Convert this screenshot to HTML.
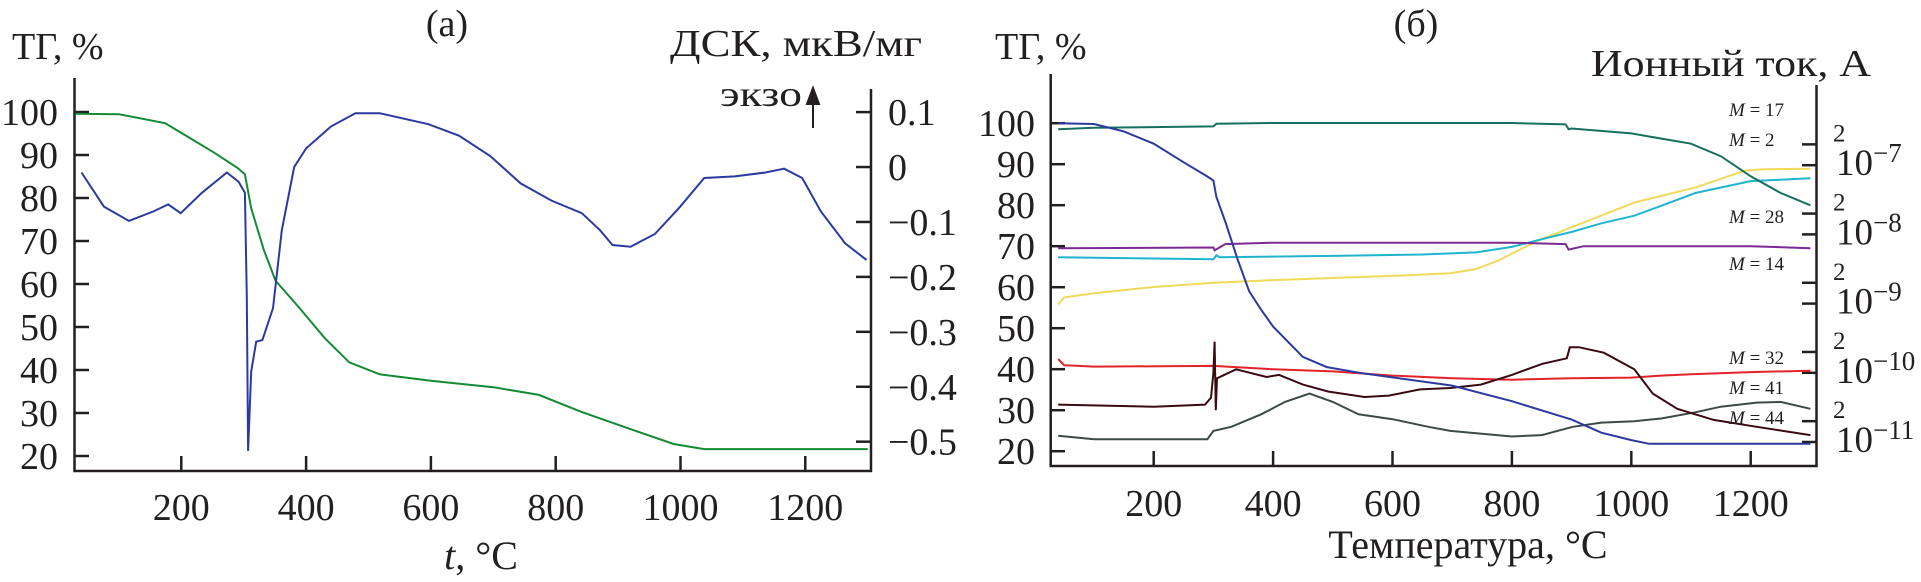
<!DOCTYPE html>
<html><head><meta charset="utf-8"><style>
html,body{margin:0;padding:0;background:#fff;}
svg{display:block;font-family:"Liberation Serif","DejaVu Serif",serif;fill:#231f20;}
</style></head><body>
<svg id="fig" width="1921" height="582" viewBox="0 0 1921 582">
<g id="chartA"></g>
<g id="chartB"></g>
</svg>
<script>
// ---- Chart (a) data ----
const aTempTG = [30,100,174,204,253,290,302,312,332,351,390,430,469,518,600,700,773,842,911,989,1038,1300];
const aTG = [99.6,99.5,97.4,94.8,90.5,87,85.5,77.6,68,60.8,54.3,47.4,41.8,39,37.5,36,34.2,30.2,26.7,22.8,21.6,21.6];
const aTempDSC = [40,76,116,155,179,199,233,273,292,302,305,307,312,320,330,347,361,381,400,440,479,518,596,645,695,744,793,842,871,891,920,959,998,1038,1087,1136,1166,1195,1225,1264,1298];
const aDSC = [-0.01,-0.072,-0.098,-0.081,-0.068,-0.084,-0.047,-0.01,-0.027,-0.047,-0.236,-0.517,-0.372,-0.318,-0.315,-0.257,-0.115,0.0,0.034,0.074,0.098,0.098,0.078,0.057,0.02,-0.03,-0.061,-0.084,-0.115,-0.142,-0.145,-0.122,-0.074,-0.02,-0.017,-0.01,-0.003,-0.02,-0.081,-0.139,-0.169];
const aXTicks = [200,400,600,800,1000,1200];
const aYTicks = [100,90,80,70,60,50,40,30,20];
const aY2Ticks = [0.1,0,-0.1,-0.2,-0.3,-0.4,-0.5];

// ---- Chart (б) data ----
const bTempTG = [40,100,150,200,250,290,300,305,320,340,360,380,400,450,490,550,600,700,800,900,950,1000,1030,1300];
const bTG = [100,99.8,98,95,90.5,87,86,82,76,67,59,54.5,50.4,43,40.5,39,38,36,32.2,27.7,24.5,22.7,21.8,21.8];
// ion currents, log10(A)
const bT17 = [40,100,300,305,400,800,890,895,900,1000,1100,1150,1200,1250,1300];
const bM17 = [-6.48,-6.46,-6.44,-6.40,-6.39,-6.39,-6.41,-6.48,-6.47,-6.54,-6.69,-6.87,-7.16,-7.40,-7.58];
const bT2 = [40,300,305,310,500,650,740,800,850,902,950,1005,1108,1200,1300];
const bM2 = [-8.33,-8.36,-8.30,-8.33,-8.31,-8.29,-8.26,-8.18,-8.07,-7.96,-7.84,-7.73,-7.40,-7.23,-7.19];
const bT28 = [40,50,100,200,300,400,500,600,697,740,779,841,902,1005,1108,1190,1220,1300];
const bM28 = [-9.01,-8.91,-8.85,-8.76,-8.70,-8.66,-8.63,-8.60,-8.56,-8.50,-8.37,-8.10,-7.89,-7.54,-7.32,-7.08,-7.06,-7.05];
const bT14 = [40,300,302,320,400,800,890,895,920,1200,1300];
const bM14 = [-8.20,-8.19,-8.23,-8.14,-8.12,-8.12,-8.14,-8.22,-8.17,-8.17,-8.20];
const bT32 = [40,50,100,300,400,500,600,700,800,900,1000,1050,1100,1200,1300];
const bM32 = [-9.80,-9.89,-9.91,-9.90,-9.95,-9.98,-10.04,-10.08,-10.10,-10.08,-10.07,-10.04,-10.02,-9.99,-9.97];
const bT41 = [40,200,286,296,300,302,304,306,338,389,410,450,492,553,594,646,697,748,800,851,892,897,912,954,1005,1036,1077,1138,1210,1300];
const bM41 = [-10.46,-10.49,-10.46,-10.36,-10.0,-9.55,-10.54,-10.08,-9.95,-10.06,-10.03,-10.17,-10.27,-10.35,-10.33,-10.24,-10.22,-10.17,-10.03,-9.87,-9.79,-9.63,-9.63,-9.71,-9.95,-10.30,-10.52,-10.68,-10.78,-10.90];
const bT44 = [40,100,200,290,300,330,380,420,461,500,543,600,660,697,800,850,902,950,1005,1050,1108,1150,1210,1250,1300];
const bM44 = [-10.91,-10.96,-10.96,-10.96,-10.84,-10.78,-10.60,-10.42,-10.30,-10.42,-10.60,-10.67,-10.78,-10.84,-10.92,-10.90,-10.78,-10.72,-10.70,-10.66,-10.57,-10.49,-10.43,-10.42,-10.52];
const bXTicks = [200,400,600,800,1000,1200];
const bYTicks = [100,90,80,70,60,50,40,30,20];
const bDecades = [-7,-8,-9,-10,-11];

const NS = "http://www.w3.org/2000/svg";
function mk(parent, tag, attrs, text){
  const e = document.createElementNS(NS, tag);
  for (const k in attrs) e.setAttribute(k, attrs[k]);
  if (text !== undefined) e.textContent = text;
  parent.appendChild(e);
  return e;
}
function pathD(xs, ys, fx, fy){
  let d = "";
  for (let i=0;i<xs.length;i++) d += (i?"L":"M") + fx(xs[i]).toFixed(1) + "," + fy(ys[i]).toFixed(1);
  return d;
}

// ---------- Chart A ----------
const A = document.getElementById("chartA");
const axA = t => 56.5 + t*0.624;
const ayA = v => 112 + (100-v)*4.3;
const ay2A = d => 112.1 + (0.1-d)*549.3;
const axisStyle = {stroke:"#231f20","stroke-width":2.5,fill:"none"};

let e;
e = mk(A,"path",Object.assign({d:"M74.5,78V471H871V89"},axisStyle));


aYTicks.forEach(v=>{
  const y = ayA(v);
  e = mk(A,"line",{x1:74.5,x2:89,y1:y,y2:y,stroke:"#231f20","stroke-width":2.5});
  
  
  e = mk(A,"text",{x:58,y:y+13,"font-size":38,"text-anchor":"end"},String(v));
  
  
});
aY2Ticks.forEach(v=>{
  const y = ay2A(v);
  e = mk(A,"line",{x1:856,x2:871,y1:y,y2:y,stroke:"#231f20","stroke-width":2.5});
  
  
  const s = v===0 ? "0" : (v<0 ? "\u2212"+Math.abs(v).toFixed(1) : v.toFixed(1));
  e = mk(A,"text",{x:888,y:y+13,"font-size":38},s);
  
  
});
aXTicks.forEach(t=>{
  const x = axA(t);
  e = mk(A,"line",{x1:x,x2:x,y1:456,y2:471,stroke:"#231f20","stroke-width":2.5});
  
  
  e = mk(A,"text",{x:x,y:520,"font-size":38,"text-anchor":"middle"},String(t));
  
  
});
e = mk(A,"path",{d:pathD(aTempTG,aTG,axA,ayA),stroke:"#138a34","stroke-width":2,fill:"none"});


e = mk(A,"path",{d:pathD(aTempDSC,aDSC,axA,ay2A),stroke:"#2b3a9e","stroke-width":2,fill:"none"});



e = mk(A,"text",{x:447,y:36,"font-size":38,"text-anchor":"middle"},"(a)");


e = mk(A,"text",{x:12,y:59,"font-size":38},"ТГ, %");


e = mk(A,"text",{x:670,y:56,"font-size":38,textLength:252,lengthAdjust:"spacingAndGlyphs"},"ДСК, мкВ/мг");


e = mk(A,"text",{x:720,y:106,"font-size":36,textLength:82,lengthAdjust:"spacingAndGlyphs"},"экзо");


e = mk(A,"path",{d:"M813,128V92M807,104L813,88L819,104Z",stroke:"#231f20","stroke-width":2,fill:"#231f20"});


e = mk(A,"text",{x:481,y:569,"font-size":40,"text-anchor":"middle"});


mk(e,"tspan",{"font-style":"italic"},"t");
mk(e,"tspan",{},", °C");

// ---------- Chart B ----------
const B = document.getElementById("chartB");
const axB = t => 1034.3 + t*0.597;
const ayB = v => 123.2 + (100-v)*4.1;
const alB = l => 165.2 - (l+7)*69.2;

e = mk(B,"path",Object.assign({d:"M1050.7,74V466H1816.5V85"},axisStyle));


bYTicks.forEach(v=>{
  const y = ayB(v);
  e = mk(B,"line",{x1:1050.7,x2:1065,y1:y,y2:y,stroke:"#231f20","stroke-width":2.5});
  
  
  e = mk(B,"text",{x:1035,y:y+13,"font-size":38,"text-anchor":"end"},String(v));
  
  
});
bDecades.forEach(p=>{
  const y = alB(p), y2 = alB(p+Math.log10(2));
  e = mk(B,"line",{x1:1802,x2:1816.5,y1:y,y2:y,stroke:"#231f20","stroke-width":2.5});
  
  
  e = mk(B,"line",{x1:1802,x2:1816.5,y1:y2,y2:y2,stroke:"#231f20","stroke-width":2.5});
  
  
  e = mk(B,"text",{x:1833,y:y2-3,"font-size":25},"2");
  
  
  e = mk(B,"text",{x:1836,y:y+10,"font-size":37});
  
  
  mk(e,"tspan",{},"10");
  mk(e,"tspan",{dy:-13,"font-size":27},"\u2212"+Math.abs(p));
});
bXTicks.forEach(t=>{
  const x = axB(t);
  e = mk(B,"line",{x1:x,x2:x,y1:451,y2:466,stroke:"#231f20","stroke-width":2.5});
  
  
  e = mk(B,"text",{x:x,y:516,"font-size":38,"text-anchor":"middle"},String(t));
  
  
});
const series = [
  [bT44,bM44,"#3d4a47","m44-curve"],
  [bT32,bM32,"#e3222a","m32-curve"],
  [bT41,bM41,"#3a0a12","m41-curve"],
  [bT28,bM28,"#f1d95a","m28-curve"],
  [bT2,bM2,"#1fb5cf","m2-curve"],
  [bT14,bM14,"#7d2a95","m14-curve"],
  [bT17,bM17,"#17705f","m17-curve"]
];
series.forEach(s=>{
  e = mk(B,"path",{d:pathD(s[0],s[1],axB,alB),stroke:s[2],"stroke-width":2,fill:"none"});
  
  
});
e = mk(B,"path",{d:pathD(bTempTG,bTG,axB,ayB),stroke:"#2b3a9e","stroke-width":2,fill:"none"});



const mLabels = ["17","2","28","14","32","41","44"];
const mY = [116,146,223,270,364,394,424];
mLabels.forEach((m,i)=>{
  e = mk(B,"text",{x:1729,y:mY[i],"font-size":19});
  
  
  mk(e,"tspan",{"font-style":"italic"},"M");
  mk(e,"tspan",{}," = "+m);
});
e = mk(B,"text",{x:1416,y:36,"font-size":38,"text-anchor":"middle"},"(б)");


e = mk(B,"text",{x:995,y:59,"font-size":38},"ТГ, %");


e = mk(B,"text",{x:1591,y:76,"font-size":38,textLength:280,lengthAdjust:"spacingAndGlyphs"},"Ионный ток, А");


e = mk(B,"text",{x:1468,y:558,"font-size":40,"text-anchor":"middle"},"Температура, °C");


</script>
</body></html>
